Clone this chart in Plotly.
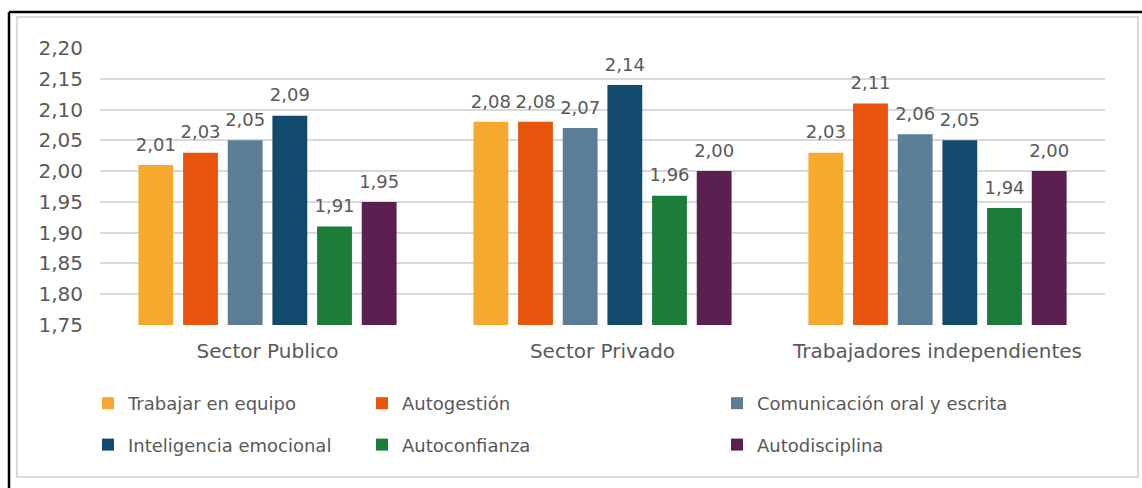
import plotly.graph_objects as go

# Data
sectors = ["Sector Publico", "Sector Privado", "Trabajadores independientes"]
skills = [
    "Trabajar en equipo",
    "Autogestión",
    "Comunicación oral y escrita",
    "Inteligencia emocional",
    "Autoconfianza",
    "Autodisciplina",
]
trabajar_en_equipo = [2.01, 2.08, 2.03]
autogestion = [2.03, 2.08, 2.11]
comunicacion = [2.05, 2.07, 2.06]
inteligencia_emocional = [2.09, 2.14, 2.05]
autoconfianza = [1.91, 1.96, 1.94]
autodisciplina = [1.95, 2.00, 2.00]
y_ticks = [1.75, 1.80, 1.85, 1.90, 1.95, 2.00, 2.05, 2.10, 2.15, 2.20]

series = [trabajar_en_equipo, autogestion, comunicacion,
          inteligencia_emocional, autoconfianza, autodisciplina]
colors = ["#F5AA2D", "#E8550F", "#5B7D96", "#114A6C", "#1C7D3A", "#5B2050"]
legend_of = ["legend", "legend2", "legend3", "legend", "legend2", "legend3"]

W, H = 1142, 488
L, R, T, B = 100, 37, 48, 163
PW, PH = W - L - R, H - T - B

def px_x(x):
    return (x - L) / PW

def px_y(y):
    return (H - B - y) / PH

GREY = "#595959"
FONT = "DejaVu Sans"
GAP = 0.2

fig = go.Figure()
for i, (name, vals, col, lg) in enumerate(zip(skills, series, colors, legend_of)):
    fig.add_trace(go.Bar(
        x=sectors, y=vals, name=name,
        marker=dict(color=col, line=dict(width=0)),
        offsetgroup=str(i),
        legend=lg, legendgroup=name,
    ))
# value labels, grouped the same way as the bars and lifted above them
for i, (name, vals) in enumerate(zip(skills, series)):
    fig.add_trace(go.Scatter(
        x=sectors, y=vals, mode="markers+text",
        marker=dict(size=14, color="rgba(0,0,0,0)"),
        text=[f"{v:.2f}".replace(".", ",") for v in vals],
        textposition="top center",
        textfont=dict(family=FONT, size=18, color=GREY),
        offsetgroup=str(i), showlegend=False, hoverinfo="skip",
        cliponaxis=False,
    ))

legend_common = dict(
    orientation="v", yanchor="top", xanchor="left",
    font=dict(family=FONT, size=18, color=GREY),
    bgcolor="rgba(0,0,0,0)", tracegroupgap=15,
)
ly = px_y(385)
fig.update_layout(
    legend=dict(x=px_x(88), y=ly, **legend_common),
    legend2=dict(x=px_x(362), y=ly, **legend_common),
    legend3=dict(x=px_x(717), y=ly, **legend_common),
)

fig.update_layout(
    width=W, height=H,
    margin=dict(l=L, r=R, t=T, b=B, pad=0),
    paper_bgcolor="white", plot_bgcolor="white",
    separators=", ",
    barmode="group", bargap=GAP, bargroupgap=0.22,
    scattermode="group", scattergap=GAP,
    font=dict(family=FONT, color=GREY),
    xaxis=dict(
        tickfont=dict(family=FONT, size=20, color=GREY),
        showgrid=False, showline=False, ticks="",
        ticklabelstandoff=12,
    ),
    yaxis=dict(
        range=[1.75, 2.20], tickvals=y_ticks, tickformat=".2f",
        tickfont=dict(family=FONT, size=20, color=GREY),
        showgrid=True, gridcolor="#D9D9D9", gridwidth=1.5,
        zeroline=False, showline=False, ticks="",
        ticklabelstandoff=16,
    ),
    shapes=[
        # inner light frame
        dict(type="rect", xref="paper", yref="paper",
             x0=px_x(17), x1=px_x(1138), y0=px_y(477), y1=px_y(17),
             line=dict(color="#DADADA", width=2), layer="below"),
        # outer dark frame edges
        dict(type="line", xref="paper", yref="paper",
             x0=px_x(9), x1=px_x(9), y0=px_y(488), y1=px_y(12),
             line=dict(color="black", width=2.5)),
        dict(type="line", xref="paper", yref="paper",
             x0=px_x(9), x1=px_x(1142), y0=px_y(12), y1=px_y(12),
             line=dict(color="black", width=2.5)),
    ],
)

fig.write_html("out.html")
